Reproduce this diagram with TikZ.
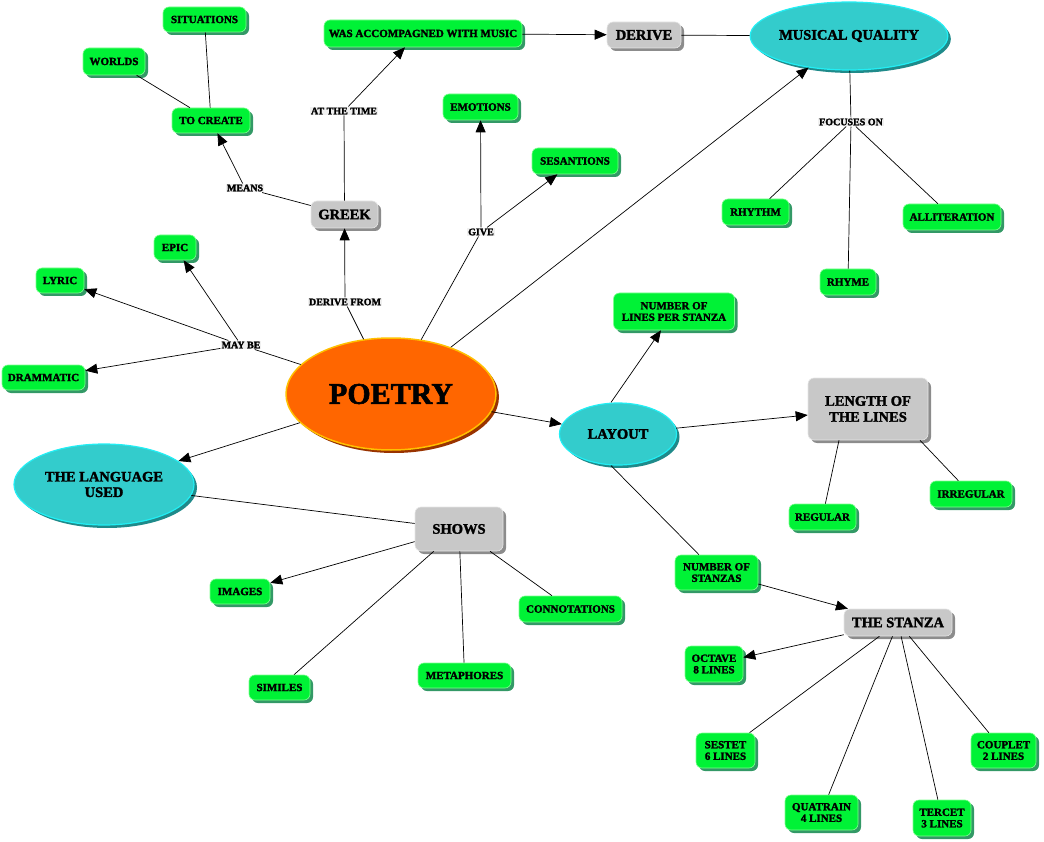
\documentclass[tikz,border=0pt]{standalone}
\usepackage{fontspec}
\setmainfont{Liberation Serif}[BoldFeatures={FakeBold=2}]
\usetikzlibrary{arrows.meta,shadows,shapes.geometric}
\definecolor{gfill}{HTML}{00F236}
\definecolor{gedge}{HTML}{7DFF8F}
\definecolor{gshadow}{HTML}{339966}
\definecolor{grfill}{HTML}{C8C8C8}
\definecolor{gredge}{HTML}{E6E6E6}
\definecolor{grshadow}{HTML}{8C8C8C}
\definecolor{cfill}{HTML}{33CCCC}
\definecolor{cedge}{HTML}{22EEF4}
\definecolor{cshadow}{HTML}{1F8A8A}
\definecolor{ofill}{HTML}{FF6600}
\definecolor{oedge}{HTML}{FFC000}
\definecolor{oshadow}{HTML}{993300}
\tikzset{
  gbox/.style={rectangle, rounded corners=6pt, fill=gfill, draw=gedge, line width=0.6pt,
    font=\bfseries\fontsize{11}{11.5}\selectfont, align=center, inner sep=0pt,
    drop shadow={shadow xshift=3pt, shadow yshift=-3pt, fill=gshadow, opacity=1}},
  gb/.style 2 args={gbox, minimum width=#1, minimum height=#2},
  grbox/.style={rectangle, rounded corners=6pt, fill=grfill, draw=gredge, line width=0.6pt,
    font=\bfseries\fontsize{14.5}{16}\selectfont, align=center, inner sep=0pt,
    drop shadow={shadow xshift=3pt, shadow yshift=-3pt, fill=grshadow, opacity=1}},
  gr/.style 2 args={grbox, minimum width=#1, minimum height=#2},
  cell/.style 2 args={ellipse, fill=cfill, draw=cedge, line width=1.2pt, inner sep=0pt,
    minimum width=#1, minimum height=#2, align=center, font=\bfseries\fontsize{14.5}{15.5}\selectfont,
    drop shadow={shadow xshift=3pt, shadow yshift=-3pt, fill=cshadow, opacity=1}},
  lbl/.style={fill=gray!12, inner sep=1pt, font=\bfseries\fontsize{10}{10.5}\selectfont},
  arr/.style={-{Triangle[length=12pt,width=10pt]}, line width=0.7pt},
  ln/.style={line width=0.7pt},
}
\begin{document}
\begin{tikzpicture}[x=1pt,y=-1pt]
\useasboundingbox (0,0) rectangle (1044,842);
% nodes
\node[gb={83}{25}] (sit) at (204.5,19.5) {SITUATIONS};
\node[gb={62}{27}] (worlds) at (114,61.5) {WORLDS};
\node[gb={78}{25}] (tocreate) at (211,120.5) {TO CREATE};
\node[gb={198}{27}] (wasacc) at (423,33.5) {WAS ACCOMPAGNED WITH MUSIC};
\node[gr={74}{26}] (derive) at (644,35) {DERIVE};
\node[cell={162}{68}] (mq) at (849,36) {MUSICAL QUALITY};
\node[gb={75}{26}] (emotions) at (480.5,107) {EMOTIONS};
\node[gb={86}{26}] (sesan) at (575,161) {SESANTIONS};
\node[gr={67}{27}] (greek) at (344.5,214.5) {GREEK};
\node[gb={67}{26}] (rhythm) at (755.5,212) {RHYTHM};
\node[gb={98}{26}] (allit) at (952,217) {ALLITERATION};
\node[gb={56}{26}] (rhyme) at (848,282) {RHYME};
\node[gb={42}{25}] (epic) at (175,247.5) {EPIC};
\node[gb={48}{25}] (lyric) at (60,280.5) {LYRIC};
\node[gb={83}{25}] (dram) at (43.5,377.5) {DRAMMATIC};
\node[ellipse, fill=ofill, draw=oedge, line width=1.5pt, inner sep=0pt, minimum width=210, minimum height=112,
  font=\bfseries\fontsize{30}{32}\selectfont,
  drop shadow={shadow xshift=3pt, shadow yshift=-3pt, fill=oshadow, opacity=1}] (poetry) at (391,394) {POETRY};
\node[gb={121}{37}] (nlps) at (674,311.5) {NUMBER OF\\LINES PER STANZA};
\node[cell={117}{62}] (layout) at (618,434) {LAYOUT};
\node[gr={120}{62}] (length) at (868,409) {LENGTH OF\\THE LINES};
\node[gb={67}{26}] (regular) at (822.5,517) {REGULAR};
\node[gb={82}{26}] (irregular) at (971,494) {IRREGULAR};
\node[cell={180}{81}] (lang) at (104,484.5) {THE LANGUAGE\\USED};
\node[gr={88}{44}] (shows) at (459,529) {SHOWS};
\node[gb={60}{25}] (images) at (240,591.5) {IMAGES};
\node[gb={103}{26}] (connot) at (570.5,609) {CONNOTATIONS};
\node[gb={61}{25}] (similes) at (279.5,687.5) {SIMILES};
\node[gb={93}{25}] (metaph) at (464.5,675.5) {METAPHORES};
\node[gb={83}{35}] (nstanzas) at (716.5,572.5) {NUMBER OF\\STANZAS};
\node[gr={108}{27}] (stanza) at (898,622.5) {THE STANZA};
\node[gb={58}{36}] (octave) at (714,664) {OCTAVE\\8 LINES};
\node[gb={59}{35}] (sestet) at (725.5,750.5) {SESTET\\6 LINES};
\node[gb={73}{35}] (quatrain) at (821.5,812.5) {QUATRAIN\\4 LINES};
\node[gb={58}{36}] (tercet) at (942,818) {TERCET\\3 LINES};
\node[gb={65}{35}] (couplet) at (1003.5,750.5) {COUPLET\\2 LINES};
% link labels
\node[lbl] (means) at (245,188) {MEANS};
\node[lbl] (atthetime) at (344,111) {AT THE TIME};
\node[lbl] (give) at (481,232) {GIVE};
\node[lbl] (focuses) at (851,122) {FOCUSES ON};
\node[lbl] (maybe) at (241,345) {MAY BE};
\node[lbl] (derivefrom) at (345,302) {DERIVE FROM};
% connectors
\draw[ln] (poetry) -- (derivefrom);
\draw[arr] (derivefrom) -- (greek);
\draw[ln] (greek) -- (means);
\draw[arr] (means) -- (tocreate);
\draw[ln] (tocreate) -- (worlds);
\draw[ln] (tocreate) -- (sit);
\draw[ln] (greek) -- (atthetime);
\draw[arr] (atthetime) -- ([xshift=-18pt]wasacc.south);
\draw[arr] (wasacc) -- (derive);
\draw[ln] (derive) -- (mq);
\draw[arr] (poetry) -- (mq);
\draw[ln] (poetry) -- (give);
\draw[arr] (give) -- (emotions);
\draw[arr] (give) -- (sesan);
\draw[ln] (poetry) -- (maybe);
\draw[arr] (maybe) -- (epic);
\draw[arr] (maybe) -- (lyric);
\draw[arr] (maybe) -- (dram);
\draw[arr] (poetry) -- (lang);
\draw[arr] (poetry) -- (layout);
\draw[ln] (mq) -- (focuses);
\draw[ln] (focuses) -- (rhythm);
\draw[ln] (focuses) -- (rhyme);
\draw[ln] (focuses) -- (allit);
\draw[arr] ([xshift=-7pt]layout.north) -- (nlps);
\draw[arr] (layout) -- (length);
\draw[ln] ([xshift=-29pt]length.south) -- (regular);
\draw[ln] ([xshift=52pt]length.south) -- (irregular);
\draw[ln] ([xshift=-7pt]layout.south) -- (nstanzas);
\draw[arr] (nstanzas) -- (stanza);
\draw[arr] (stanza) -- (octave);
\draw[ln] (stanza) -- (sestet);
\draw[ln] (stanza) -- (quatrain);
\draw[ln] (stanza) -- (tercet);
\draw[ln] (stanza) -- (couplet);
\draw[ln] (lang) -- (shows);
\draw[arr] (shows) -- (images);
\draw[ln] (shows) -- (similes);
\draw[ln] (shows) -- (metaph);
\draw[ln] (shows) -- (connot);
\end{tikzpicture}
\end{document}
